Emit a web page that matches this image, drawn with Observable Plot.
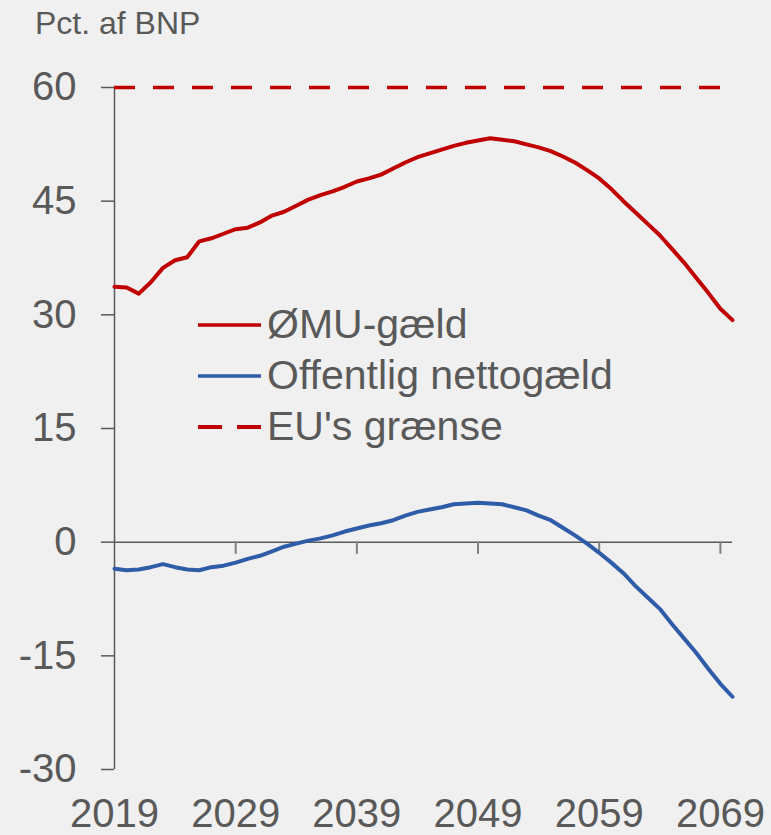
<!DOCTYPE html>
<html>
<head>
<meta charset="utf-8">
<script src="https://cdn.jsdelivr.net/npm/d3@7"></script>
<script src="https://cdn.jsdelivr.net/npm/@observablehq/plot@0.6"></script>
<style>
  html, body { margin: 0; padding: 0; background: #f0f0f0; }
  #wrap { position: relative; width: 771px; height: 835px; background: #f0f0f0; font-family: "Liberation Sans", Arial, sans-serif; color: #595959; overflow: hidden; }
  #title { position: absolute; left: 35px; top: 5px; font-size: 32px; line-height: 37px; }
  #legend { position: absolute; left: 198px; top: 299px; font-size: 41px; }
  .row { display: flex; align-items: center; height: 51px; }
  .row svg { margin-right: 6px; }
  #chart svg { display: block; }
</style>
</head>
<body>
<div id="wrap">
  <div id="chart"></div>
  <div id="title">Pct. af BNP</div>
  <div id="legend"></div>
</div>
<script>
const years = d3.range(2019, 2071);
const omuGaeld = [
  33.7, 33.6, 32.8, 34.3, 36.2, 37.2, 37.6, 39.7, 40.1, 40.7,
  41.3, 41.5, 42.2, 43.1, 43.6, 44.4, 45.2, 45.8, 46.3, 46.9,
  47.6, 48.0, 48.5, 49.3, 50.1, 50.8, 51.3, 51.8, 52.3, 52.7,
  53.0, 53.3, 53.1, 52.9, 52.5, 52.1, 51.6, 50.9, 50.1, 49.1,
  48.0, 46.6, 45.0, 43.5, 42.0, 40.5, 38.7, 36.9, 34.9, 32.9,
  30.8, 29.3
];
const nettoGaeld = [
  -3.5, -3.7, -3.6, -3.3, -2.9, -3.3, -3.6, -3.7, -3.3, -3.1,
  -2.7, -2.2, -1.8, -1.2, -0.6, -0.2, 0.2, 0.5, 0.9, 1.4,
  1.8, 2.2, 2.5, 2.9, 3.5, 4.0, 4.3, 4.6, 5.0, 5.1,
  5.2, 5.1, 5.0, 4.6, 4.2, 3.5, 2.9, 1.9, 0.9, -0.2,
  -1.4, -2.7, -4.1, -5.8, -7.3, -8.8, -10.8, -12.7, -14.6, -16.7,
  -18.7, -20.4
];
const euLimit = 60;
const yTicks = [-30, -15, 0, 15, 30, 45, 60];
const xTicks = [2019, 2029, 2039, 2049, 2059, 2069];
const seriesNames = ["ØMU-gæld", "Offentlig nettogæld", "EU's grænse"];
const seriesColors = ["#c00000", "#2f5ca8", "#c00000"];

const rows = years.map((y, i) => ({year: y, omu: omuGaeld[i], netto: nettoGaeld[i]}));

const plot = Plot.plot({
  width: 771,
  height: 835,
  marginLeft: 114,
  marginRight: 39,
  marginTop: 87,
  marginBottom: 66,
  style: {background: "#f0f0f0", fontFamily: "\"Liberation Sans\", Arial, sans-serif", color: "#595959"},
  x: {domain: [2019, 2070]},
  y: {domain: [-30, 60]},
  marks: [
    Plot.axisY({ticks: yTicks, tickSize: 13, tickPadding: 25, fontSize: 40, stroke: "#595959", strokeWidth: 1.5, fill: "#595959", tickFormat: d => String(d), label: null}),
    Plot.axisX({ticks: xTicks, tickSize: 0, tickPadding: 29, fontSize: 40, fill: "#595959", tickFormat: d => String(d), label: null}),
    Plot.ruleX([2019], {y1: -30, y2: 60, stroke: "#595959", strokeWidth: 1.5}),
    Plot.ruleY([0], {x1: 2019, x2: 2070, stroke: "#595959", strokeWidth: 1.5}),
    Plot.ruleX(xTicks.slice(1), {y1: 0, y2: -1.6, stroke: "#7f7f7f", strokeWidth: 2}),
    Plot.ruleY([euLimit], {x1: 2019, x2: 2070, stroke: seriesColors[2], strokeWidth: 3.5, strokeDasharray: "21,18"}),
    Plot.line(rows, {x: "year", y: "omu", stroke: seriesColors[0], strokeWidth: 4}),
    Plot.line(rows, {x: "year", y: "netto", stroke: seriesColors[1], strokeWidth: 4})
  ]
});
document.getElementById("chart").appendChild(plot);

const legend = document.getElementById("legend");
seriesNames.forEach((name, i) => {
  const row = document.createElement("div");
  row.className = "row";
  const dash = i === 2 ? 'stroke-dasharray="24,15"' : '';
  const sw = i === 2 ? 4 : 3.5;
  row.innerHTML = `<svg width="63" height="10"><line x1="0" x2="63" y1="5" y2="5" stroke="${seriesColors[i]}" stroke-width="${sw}" ${dash}/></svg><span>${name}</span>`;
  legend.appendChild(row);
});
</script>
</body>
</html>
